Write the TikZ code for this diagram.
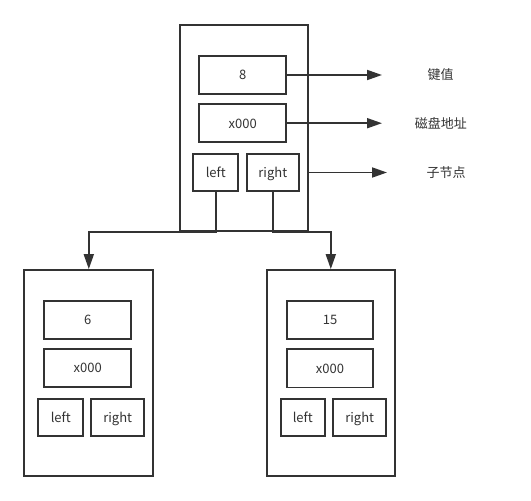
\documentclass[tikz,border=0pt]{standalone}
\usepackage{fontspec}
\setmainfont{Noto Sans CJK SC}
\usetikzlibrary{arrows.meta}
\definecolor{ink}{HTML}{333333}
\begin{document}
\begin{tikzpicture}[x=1pt,y=-1pt,
  box/.style={draw=ink,line width=1.8pt,inner sep=0pt,text=ink,
    text height=9.8pt,text depth=0pt,font=\fontsize{13}{15}\selectfont},
  lbl/.style={inner sep=0pt,text=ink,font=\fontsize{13}{15}\selectfont},
  link/.style={draw=ink,line width=1.8pt,-{Triangle[length=15pt,width=10pt]}}]
\useasboundingbox[fill=white] (0,0) rectangle (531,501);

% root node
\node[box,minimum width=128pt,minimum height=206pt] (top) at (244,128) {};
\node[box,minimum width=86.7pt,minimum height=38.3pt] (tkey) at (242.7,75) {8};
\node[box,minimum width=86.7pt,minimum height=38.3pt] (taddr) at (242.7,123.2) {x000};
\node[box,minimum width=45pt,minimum height=36.4pt] (tleft) at (215.8,172.5) {left};
\node[box,minimum width=52.3pt,minimum height=36.4pt] (tright) at (272.8,172.5) {right};

% legend
\node[lbl] (lkey) at (440.5,75) {键值};
\node[lbl] (laddr) at (440.8,123) {磁盘地址};
\node[lbl] (lchild) at (446,173) {子节点};
\coordinate (ekey) at (382,75);
\coordinate (eaddr) at (382,123.2);
\coordinate (echild) at (387,172.5);
\draw[link] (tkey.east) -- (ekey);
\draw[link] (taddr.east) -- (eaddr);
\draw[link] (top.east |- tright.center) -- (echild);

% left child
\node[box,minimum width=129pt,minimum height=206pt] (c1) at (88.8,373) {};
\node[box,minimum width=86.7pt,minimum height=38pt] (c1key) at (87.7,319.7) {6};
\node[box,minimum width=86.7pt,minimum height=37.4pt] (c1addr) at (87.7,368) {x000};
\node[box,minimum width=45pt,minimum height=36.7pt] (c1left) at (60.8,417.7) {left};
\node[box,minimum width=53.3pt,minimum height=36.7pt] (c1right) at (117.7,417.7) {right};

% right child
\node[box,minimum width=128.3pt,minimum height=206pt] (c2) at (330.8,373) {};
\node[box,minimum width=86.7pt,minimum height=38.3pt] (c2key) at (330,320) {15};
\node[box,minimum width=86.7pt,minimum height=38.3pt] (c2addr) at (330,368.3) {x000};
\node[box,minimum width=44.3pt,minimum height=36.7pt] (c2left) at (302.8,417.7) {left};
\node[box,minimum width=52.7pt,minimum height=36.7pt] (c2right) at (359.7,417.7) {right};

% child pointers
\draw[link] (tleft.south) -- (tleft.south |- top.south) -| (c1.north);
\draw[link] (tright.south) -- (tright.south |- top.south) -| (c2.north);
\end{tikzpicture}
\end{document}
